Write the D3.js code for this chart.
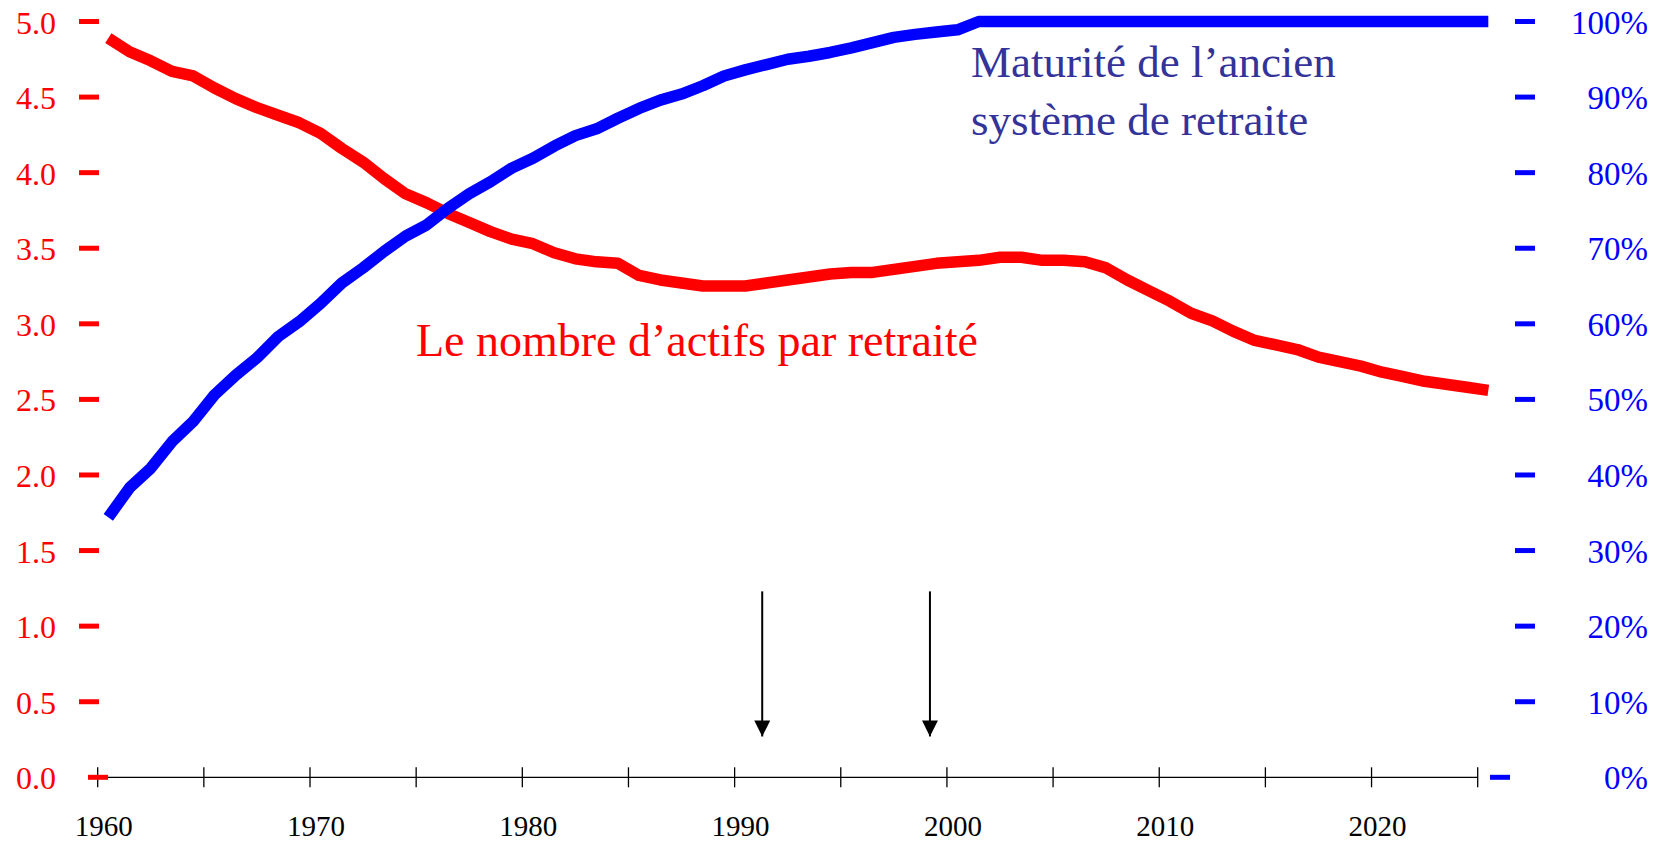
<!DOCTYPE html>
<html lang="fr">
<head>
<meta charset="utf-8">
<title>actifs par retraité</title>
<style>
	body { margin: 0; background: #fff; }
	svg { display: block; font-family: "Liberation Serif", "DejaVu Serif", serif; }
	.ylab { fill: #ff0000; font-size: 32px; }
	.rlab { fill: #0000ff; font-size: 33px; }
	.xlab { fill: #000; font-size: 29px; }
</style>
</head>
<body>
<script src="https://cdnjs.cloudflare.com/ajax/libs/d3/7.8.5/d3.min.js"></script>
<script>

	var years = d3.range(1960, 2026);

	// nombre d'actifs par retraité (échelle de gauche)
	var ratio = [
		4.89, 4.80, 4.74, 4.67, 4.64, 4.56, 4.49, 4.43, 4.38, 4.33,
		4.26, 4.16, 4.07, 3.96, 3.86, 3.80, 3.73, 3.67, 3.61, 3.56,
		3.53, 3.47, 3.43, 3.41, 3.40, 3.32, 3.29, 3.27, 3.25, 3.25,
		3.25, 3.27, 3.29, 3.31, 3.33, 3.34, 3.34, 3.36, 3.38, 3.40,
		3.41, 3.42, 3.44, 3.44, 3.42, 3.42, 3.41, 3.37, 3.29, 3.22,
		3.15, 3.07, 3.02, 2.95, 2.89, 2.86, 2.83, 2.78, 2.75, 2.72,
		2.68, 2.65, 2.62, 2.60, 2.58, 2.56
	];

	// maturité de l'ancien système (%, échelle de droite)
	var maturity = [
		34.4, 38.3, 40.9, 44.4, 47.1, 50.6, 53.2, 55.5, 58.3, 60.3,
		62.7, 65.4, 67.4, 69.6, 71.6, 73.1, 75.3, 77.2, 78.8, 80.6,
		81.9, 83.5, 84.9, 85.8, 87.2, 88.5, 89.6, 90.4, 91.5, 92.8,
		93.6, 94.3, 95.0, 95.4, 95.9, 96.5, 97.2, 97.9, 98.3, 98.6,
		98.9, 100, 100, 100, 100, 100, 100, 100, 100, 100,
		100, 100, 100, 100, 100, 100, 100, 100, 100, 100,
		100, 100, 100, 100, 100, 100
	];

	var leftTicks = [0, 0.5, 1, 1.5, 2, 2.5, 3, 3.5, 4, 4.5, 5];
	var rightTicks = [0, 10, 20, 30, 40, 50, 60, 70, 80, 90, 100];
	var xTicks = d3.range(1960, 2026, 5);
	var xLabels = [1960, 1970, 1980, 1990, 2000, 2010, 2020];

	// flèches : année, valeur haute et basse (échelle de gauche)
	var arrowYears = [1991.3, 1999.2];
	var arrowFrom = 1.23, arrowTo = 0.27;

	var ratioLabel = "Le nombre d\u2019actifs par retraité";
	var maturityLabel = ["Maturité de l\u2019ancien", "système de retraite"];

	var fullwidth = 1667, fullheight = 841;

	var xScale = d3.scaleLinear().domain([1960, 2025]).range([97.7, 1477.7]);
	var yLeft = d3.scaleLinear().domain([0, 5]).range([777.3, 21.5]);
	var yRight = d3.scaleLinear().domain([0, 100]).range([777.3, 21.5]);

	var svg = d3.select("body").append("svg")
		.attr("width", fullwidth)
		.attr("height", fullheight);

	svg.append("defs").append("marker")
		.attr("id", "head")
		.attr("viewBox", "0 0 10 10")
		.attr("refX", 10).attr("refY", 5)
		.attr("markerWidth", 8).attr("markerHeight", 8)
		.attr("markerUnits", "strokeWidth")
		.attr("orient", "auto")
		.append("path")
		.attr("d", "M0,0L10,5L0,10Z")
		.attr("fill", "#000");

	// axe des x
	svg.append("line")
		.attr("x1", xScale(1960)).attr("x2", xScale(2025))
		.attr("y1", yLeft(0)).attr("y2", yLeft(0))
		.attr("stroke", "#000").attr("stroke-width", 1.3);

	svg.selectAll("line.xtick")
		.data(xTicks)
		.enter().append("line")
		.attr("class", "xtick")
		.attr("x1", function(d) { return xScale(d); })
		.attr("x2", function(d) { return xScale(d); })
		.attr("y1", yLeft(0) - 10)
		.attr("y2", yLeft(0) + 10)
		.attr("stroke", "#000").attr("stroke-width", 1.3);

	svg.selectAll("text.xlab")
		.data(xLabels)
		.enter().append("text")
		.attr("class", "xlab")
		.attr("x", function(d) { return xScale(d) + 6; })
		.attr("y", yLeft(0) + 59)
		.attr("text-anchor", "middle")
		.text(function(d) { return d; });

	// axe de gauche
	svg.selectAll("line.ltick")
		.data(leftTicks)
		.enter().append("line")
		.attr("class", "ltick")
		.attr("x1", function(d) { return d === 0 ? 88 : 79; })
		.attr("x2", function(d) { return d === 0 ? 108 : 99; })
		.attr("y1", function(d) { return yLeft(d); })
		.attr("y2", function(d) { return yLeft(d); })
		.attr("stroke", "#ff0000").attr("stroke-width", 5);

	svg.selectAll("text.ylab")
		.data(leftTicks)
		.enter().append("text")
		.attr("class", "ylab")
		.attr("x", 56)
		.attr("y", function(d) { return yLeft(d) + 12; })
		.attr("text-anchor", "end")
		.text(function(d) { return d3.format(".1f")(d); });

	// axe de droite
	svg.selectAll("line.rtick")
		.data(rightTicks)
		.enter().append("line")
		.attr("class", "rtick")
		.attr("x1", function(d) { return d === 0 ? 1490 : 1515; })
		.attr("x2", function(d) { return d === 0 ? 1510 : 1535; })
		.attr("y1", function(d) { return yRight(d); })
		.attr("y2", function(d) { return yRight(d); })
		.attr("stroke", "#0000ff").attr("stroke-width", 5);

	svg.selectAll("text.rlab")
		.data(rightTicks)
		.enter().append("text")
		.attr("class", "rlab")
		.attr("x", 1648)
		.attr("y", function(d) { return yRight(d) + 12; })
		.attr("text-anchor", "end")
		.text(function(d) { return d + "%"; });

	// courbes
	var redLine = d3.line()
		.x(function(d, i) { return xScale(years[i] + 0.5); })
		.y(function(d) { return yLeft(d); });

	var blueLine = d3.line()
		.x(function(d, i) { return xScale(years[i] + 0.5); })
		.y(function(d) { return yRight(d); });

	svg.append("path")
		.datum(ratio)
		.attr("d", redLine)
		.attr("fill", "none")
		.attr("stroke", "#ff0000")
		.attr("stroke-width", 11.5)
		.attr("stroke-linejoin", "round");

	svg.append("path")
		.datum(maturity)
		.attr("d", blueLine)
		.attr("fill", "none")
		.attr("stroke", "#0000ff")
		.attr("stroke-width", 11.5)
		.attr("stroke-linejoin", "round");

	// flèches
	svg.selectAll("line.arrow")
		.data(arrowYears)
		.enter().append("line")
		.attr("class", "arrow")
		.attr("x1", function(d) { return xScale(d); })
		.attr("x2", function(d) { return xScale(d); })
		.attr("y1", yLeft(arrowFrom))
		.attr("y2", yLeft(arrowTo))
		.attr("stroke", "#000")
		.attr("stroke-width", 2)
		.attr("marker-end", "url(#head)");

	// annotations
	svg.append("text")
		.attr("x", 416)
		.attr("y", 356)
		.attr("fill", "#ff0000")
		.style("font-size", "46px")
		.text(ratioLabel);

	svg.append("text")
		.attr("x", 971)
		.attr("y", 77)
		.attr("fill", "#333399")
		.style("font-size", "45px")
		.selectAll("tspan")
		.data(maturityLabel)
		.enter().append("tspan")
		.attr("x", 971)
		.attr("dy", function(d, i) { return i === 0 ? 0 : 58; })
		.text(function(d) { return d; });

</script>
</body>
</html>
